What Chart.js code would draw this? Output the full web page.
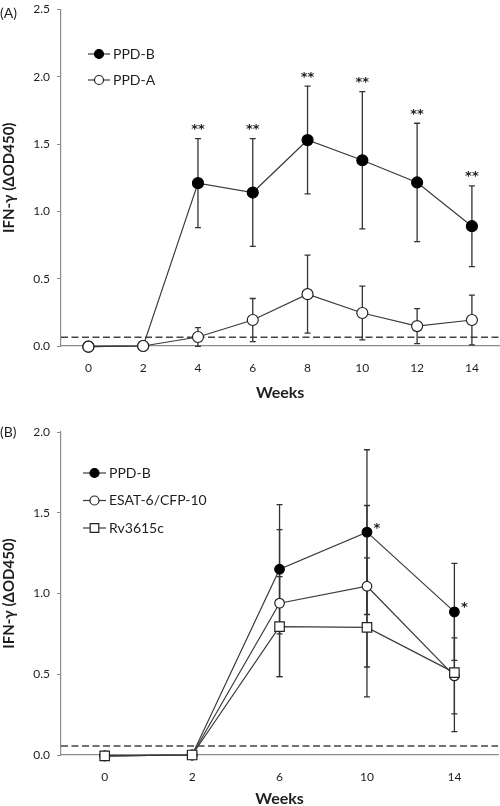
<!DOCTYPE html>
<html>
<head>
<meta charset="utf-8">
<script src="https://cdn.jsdelivr.net/npm/chart.js@4.4.0/dist/chart.umd.min.js"></script>
<style>
  html, body { margin: 0; padding: 0; background: #fff; overflow: hidden; }
  #wrap { position: relative; width: 500px; height: 806px; overflow: hidden; }
  canvas { position: absolute; left: 0; }
</style>
</head>
<body>
<div id="wrap">
  <canvas id="chartA" width="506" height="415" style="top:-5px"></canvas>
  <canvas id="chartB" width="506" height="400" style="top:410px"></canvas>
</div>
<script>
// (A) PPD-B vs PPD-A
const weeksA = ['0', '2', '4', '6', '8', '10', '12', '14'];
const ppdbA = [-0.005, 0.0, 1.21, 1.14, 1.53, 1.38, 1.215, 0.89];
const ppdbA_sd = [0, 0, 0.33, 0.40, 0.40, 0.51, 0.44, 0.30];
const ppdaA = [-0.005, 0.0, 0.067, 0.193, 0.385, 0.245, 0.148, 0.193];
const ppdaA_sd = [0, 0, 0.07, 0.16, 0.29, 0.20, 0.13, 0.185];
const starsA = ['', '', '**', '**', '**', '**', '**', '**'];
const cutoffA = 0.065;
const yTicksA = [0, 0.5, 1.0, 1.5, 2.0, 2.5];

// (B) PPD-B vs ESAT-6/CFP-10 vs Rv3615c
const weeksB = ['0', '2', '6', '10', '14'];
const ppdbB = [-0.005, 0.0, 1.15, 1.38, 0.886];
const ppdbB_sd = [0, 0, 0.40, 0.51, 0.30];
const esatB = [-0.005, 0.0, 0.94, 1.045, 0.49];
const esatB_sd = [0, 0, 0.455, 0.50, 0.235];
const rvB = [-0.005, 0.0, 0.795, 0.79, 0.51];
const rvB_sd = [0, 0, 0.31, 0.43, 0.365];
const starsB = ['', '', '', '*', '*'];
const cutoffB = 0.055;
const yTicksB = [0, 0.5, 1.0, 1.5, 2.0];

const FONT = 'Lato';
const TXT = '#1e1e1e';
const AXIS = '#8c8c8c';

// dashed cutoff, error bars, stars, legend and panel letter
const extras = {
  id: 'extras',
  beforeDatasetsDraw(chart, args, opts) {
    const ctx = chart.ctx;
    const {left, right} = chart.chartArea;
    const y = chart.scales.y;
    ctx.save();
    ctx.strokeStyle = '#444';
    ctx.lineWidth = 1.5;
    ctx.setLineDash([7, 3.5]);
    const cy = y.getPixelForValue(opts.cutoff);
    ctx.beginPath();
    ctx.moveTo(left, cy);
    ctx.lineTo(right, cy);
    ctx.stroke();
    ctx.setLineDash([]);

    ctx.strokeStyle = '#333';
    ctx.lineWidth = 1.3;
    chart.data.datasets.forEach((ds, i) => {
      const pts = chart.getDatasetMeta(i).data;
      ds.sd.forEach((e, j) => {
        if (!e) return;
        const x = pts[j].x;
        const t = y.getPixelForValue(ds.data[j] + e);
        const b = y.getPixelForValue(ds.data[j] - e);
        ctx.beginPath();
        ctx.moveTo(x, t); ctx.lineTo(x, b);
        ctx.moveTo(x - 3, t); ctx.lineTo(x + 3, t);
        ctx.moveTo(x - 3, b); ctx.lineTo(x + 3, b);
        ctx.stroke();
      });
    });
    ctx.restore();
  },
  afterDatasetsDraw(chart, args, opts) {
    const ctx = chart.ctx;
    const y = chart.scales.y;
    ctx.save();

    // significance marks on the first series
    const ds0 = chart.data.datasets[0];
    const pts0 = chart.getDatasetMeta(0).data;
    ctx.fillStyle = TXT;
    ctx.font = 'bold 13px "DejaVu Sans"';
    ctx.textAlign = 'center';
    ctx.textBaseline = 'middle';
    opts.stars.forEach((s, j) => {
      if (!s) return;
      if (opts.starMode === 'above') {
        ctx.fillText(s, pts0[j].x, y.getPixelForValue(ds0.data[j] + ds0.sd[j]) - 9);
      } else {
        ctx.fillText(s, pts0[j].x + 10, pts0[j].y - 4);
      }
    });

    // legend
    const L = opts.legend;
    ctx.textAlign = 'left';
    chart.data.datasets.forEach((ds, i) => {
      const ly = L.y + i * L.gap;
      ctx.strokeStyle = ds.borderColor;
      ctx.lineWidth = 1.2;
      ctx.beginPath();
      ctx.moveTo(L.x, ly);
      ctx.lineTo(L.x + L.len, ly);
      ctx.stroke();
      ctx.fillStyle = ds.pointBackgroundColor;
      ctx.strokeStyle = ds.pointBorderColor;
      ctx.lineWidth = ds.pointBorderWidth;
      Chart.helpers.drawPoint(ctx, {
        pointStyle: ds.pointStyle || 'circle',
        radius: ds.pointStyle === 'rect' ? L.r * 1.35 : L.r,
        rotation: 0,
        borderWidth: ds.pointBorderWidth
      }, L.x + L.len / 2, ly);
      ctx.fillStyle = TXT;
      ctx.font = '14px ' + FONT;
      ctx.fillText(ds.label, L.x + L.len + 3, ly);
    });

    // panel letter
    ctx.font = '14px ' + FONT;
    ctx.fillText(opts.panel, 0, opts.panelY);
    ctx.restore();
  }
};

function series(label, data, sd, style) {
  return Object.assign({
    label: label,
    data: data,
    sd: sd,
    borderColor: '#3a3a3a',
    borderWidth: 1.2,
    pointBorderColor: '#222',
    pointBorderWidth: 1.2,
    tension: 0,
    clip: false
  }, style);
}

function makeChart(id, labels, datasets, yTicks, padTop, axisH, titlePadBottom, extraOpts) {
  return new Chart(document.getElementById(id), {
    type: 'line',
    data: { labels: labels, datasets: datasets },
    plugins: [extras],
    options: {
      responsive: false,
      animation: false,
      devicePixelRatio: 1,
      layout: { padding: { top: padTop, right: 2, left: 0, bottom: 0 } },
      plugins: {
        legend: { display: false },
        tooltip: { enabled: false },
        extras: extraOpts
      },
      scales: {
        x: {
          type: 'category',
          offset: true,
          grid: { display: false, drawTicks: false },
          border: { color: AXIS, width: 1.2 },
          ticks: { color: TXT, font: { family: FONT, size: 12 }, padding: 15 },
          title: {
            display: true, text: 'Weeks', color: TXT,
            font: { family: FONT, size: 16, weight: 'bold' },
            padding: { top: 0, bottom: titlePadBottom }
          },
          afterFit: s => { s.height = axisH; }
        },
        y: {
          min: yTicks[0],
          max: yTicks[yTicks.length - 1],
          afterBuildTicks: s => { s.ticks = yTicks.map(v => ({ value: v })); },
          grid: { drawOnChartArea: false, drawTicks: true, tickLength: 4, color: AXIS },
          border: { color: AXIS, width: 1.2 },
          ticks: { color: TXT, font: { family: FONT, size: 12 }, padding: 7, callback: v => v.toFixed(1) },
          title: {
            display: true, text: 'IFN-γ (ΔOD450)', color: TXT,
            font: { family: FONT, size: 15, weight: 'bold' },
            padding: { top: 0.5, bottom: 0 }
          },
          afterFit: s => { s.width = 61; }
        }
      }
    }
  });
}

makeChart('chartA', weeksA, [
  series('PPD-B', ppdbA, ppdbA_sd, { pointBackgroundColor: '#000', pointBorderColor: '#000', pointRadius: 5.5, order: 1 }),
  series('PPD-A', ppdaA, ppdaA_sd, { pointBackgroundColor: '#fff', pointRadius: 5.5, order: 0 })
], yTicksA, 14.5, 64, 8, {
  cutoff: cutoffA, stars: starsA, starMode: 'above',
  legend: { x: 88, y: 59, gap: 26, len: 22, r: 4.5 },
  panel: '(A)', panelY: 18
});

makeChart('chartB', weeksB, [
  series('PPD-B', ppdbB, ppdbB_sd, { pointBackgroundColor: '#000', pointBorderColor: '#000', pointRadius: 4.8, order: 2 }),
  series('ESAT-6/CFP-10', esatB, esatB_sd, { pointBackgroundColor: '#fff', pointRadius: 4.8, order: 1 }),
  series('Rv3615c', rvB, rvB_sd, { pointBackgroundColor: '#fff', pointStyle: 'rect', pointRadius: 6.7, order: 0 })
], yTicksB, 22, 55, 1.4, {
  cutoff: cutoffB, stars: starsB, starMode: 'right',
  legend: { x: 83, y: 63, gap: 27.5, len: 23, r: 4.5 },
  panel: '(B)', panelY: 22
});
</script>
</body>
</html>
